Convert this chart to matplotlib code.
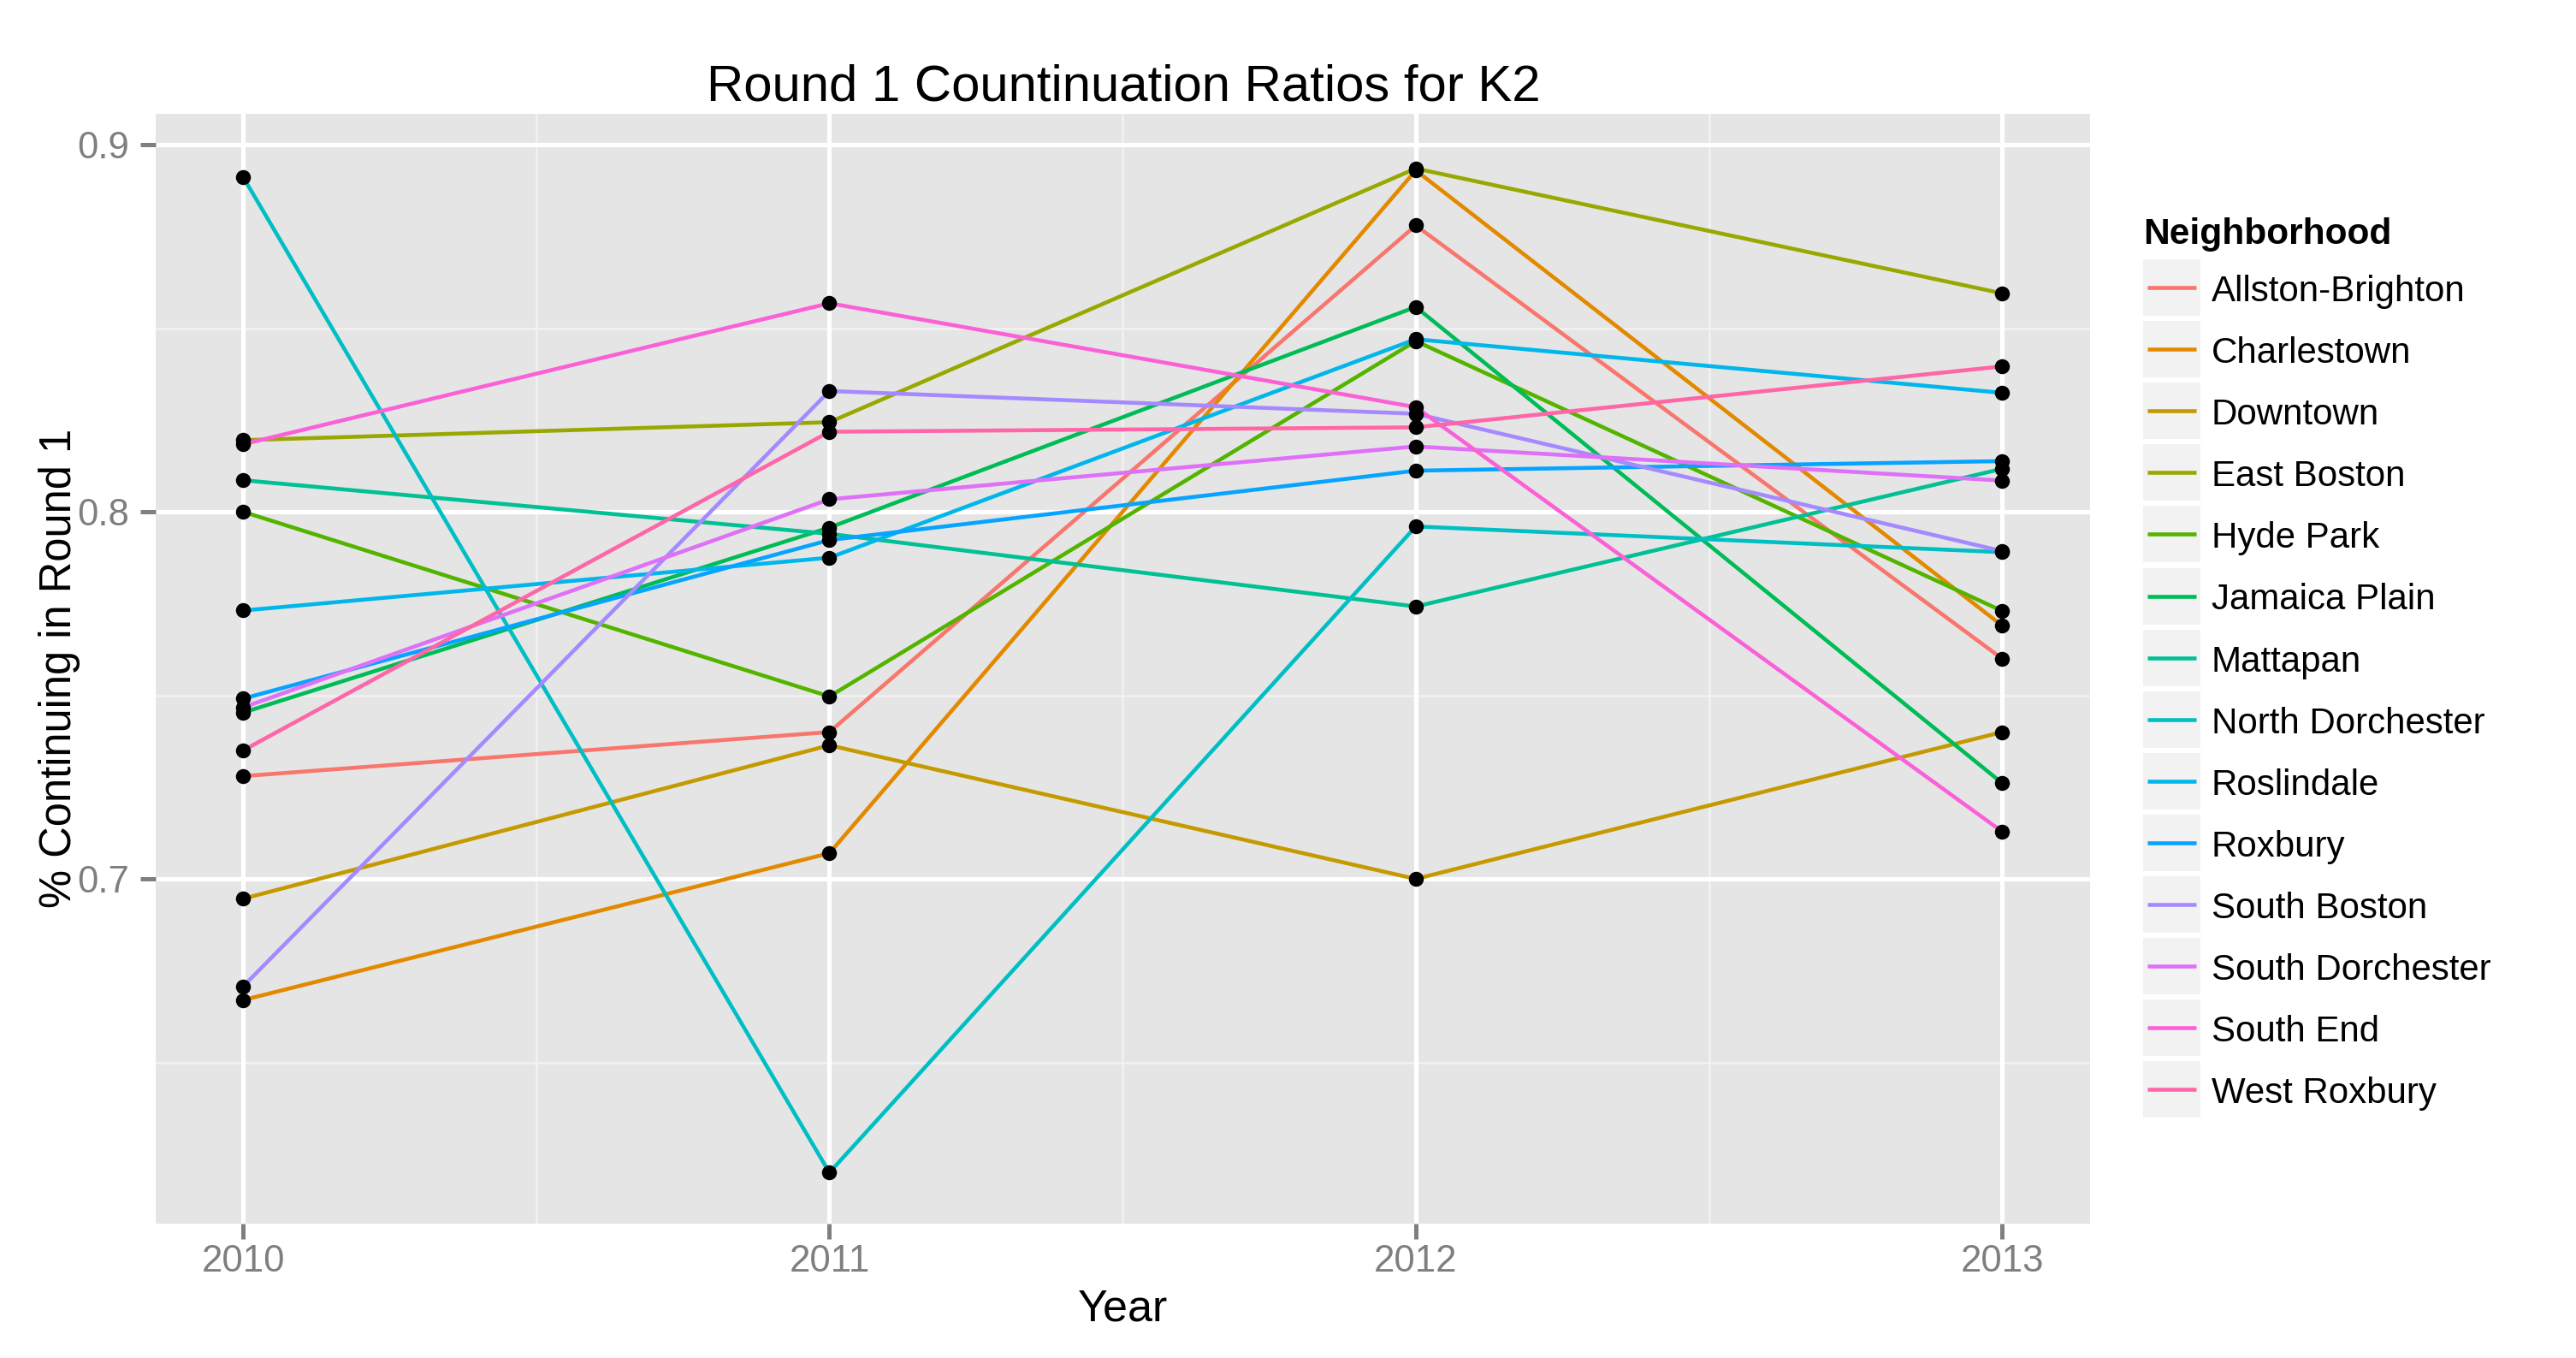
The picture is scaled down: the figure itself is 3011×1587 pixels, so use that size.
import matplotlib
matplotlib.use('Agg')
import matplotlib.pyplot as plt
from matplotlib.patches import Rectangle

plt.rcParams['font.family'] = ['Liberation Sans', 'DejaVu Sans']

years = [2010, 2011, 2012, 2013]

neighborhoods = ['Allston-Brighton', 'Charlestown', 'Downtown', 'East Boston', 'Hyde Park',
                 'Jamaica Plain', 'Mattapan', 'North Dorchester', 'Roslindale', 'Roxbury',
                 'South Boston', 'South Dorchester', 'South End', 'West Roxbury']

colors = ['#F8766D', '#E38900', '#C49A00', '#99A800', '#53B400', '#00BC56', '#00C094',
          '#00BFC4', '#00B6EB', '#06A4FF', '#A58AFF', '#DF70F8', '#FB61D7', '#FF66A8']

# ratios per neighborhood, 2010..2013
allston_brighton = [0.728, 0.740, 0.878, 0.760]
charlestown = [0.667, 0.707, 0.893, 0.769]
downtown = [0.6946, 0.7364, 0.700, 0.740]
east_boston = [0.8195, 0.8244, 0.8935, 0.8595]
hyde_park = [0.800, 0.7497, 0.8465, 0.773]
jamaica_plain = [0.7453, 0.7957, 0.8558, 0.7261]
mattapan = [0.8086, 0.794, 0.7742, 0.8117]
north_dorchester = [0.8912, 0.620, 0.796, 0.789]
roslindale = [0.7731, 0.7875, 0.847, 0.8324]
roxbury = [0.7491, 0.7923, 0.8112, 0.8138]
south_boston = [0.6707, 0.8329, 0.8267, 0.7893]
south_dorchester = [0.7467, 0.8034, 0.8178, 0.8085]
south_end = [0.8184, 0.8568, 0.8285, 0.7129]
west_roxbury = [0.735, 0.8218, 0.823, 0.8396]

series = [allston_brighton, charlestown, downtown, east_boston, hyde_park, jamaica_plain,
          mattapan, north_dorchester, roslindale, roxbury, south_boston, south_dorchester,
          south_end, west_roxbury]

W, H = 3012, 1587
fig = plt.figure(figsize=(W / 300, H / 300), dpi=300)
fig.patch.set_facecolor('white')

def fx(px):
    return px / W

def fy(py):
    return (H - py) / H

ax = fig.add_axes([fx(182), fy(1430), fx(2443) - fx(182), fy(133) - fy(1430)])
ax.set_facecolor('#E5E5E5')
for s in ax.spines.values():
    s.set_visible(False)

ax.set_xlim(2010 - 0.149, 2013 + 0.15)
ax.set_ylim(0.6061, 0.9084)

# grid
for x in [2010.5, 2011.5, 2012.5]:
    ax.axvline(x, color='#F2F2F2', lw=0.6, zorder=0)
for y in [0.65, 0.75, 0.85]:
    ax.axhline(y, color='#F2F2F2', lw=0.6, zorder=0)
for x in years:
    ax.axvline(x, color='white', lw=1.25, zorder=0)
for y in [0.7, 0.8, 0.9]:
    ax.axhline(y, color='white', lw=1.25, zorder=0)

for vals, c in zip(series, colors):
    ax.plot(years, vals, color=c, lw=1.1, zorder=2, solid_capstyle='butt')
for vals in series:
    ax.plot(years, vals, 'o', color='black', ms=4.2, mew=0, zorder=3)

ax.set_xticks(years)
ax.set_xticklabels([str(y) for y in years])
ax.set_yticks([0.7, 0.8, 0.9])
ax.set_yticklabels(['0.7', '0.8', '0.9'])
ax.tick_params(axis='both', colors='#7F7F7F', labelcolor='#7F7F7F', labelsize=10.5,
               length=4.3, width=1.2)
ax.tick_params(axis='x', pad=1.5)
ax.tick_params(axis='y', pad=3)

fig.text(fx(1313), fy(118), 'Round 1 Countinuation Ratios for K2', ha='center', va='baseline',
         fontsize=14.4, color='black')
fig.text(fx(1312), fy(1543), 'Year', ha='center', va='baseline', fontsize=12.5, color='black')
fig.text(fx(70), fy(781), '% Continuing in Round 1', ha='center', va='center', rotation=90,
         fontsize=12.2, color='black')

# legend
lax = fig.add_axes([0, 0, 1, 1], facecolor='none')
lax.set_xlim(0, W)
lax.set_ylim(H, 0)
lax.axis('off')
lax.text(2505, 285, 'Neighborhood', ha='left', va='baseline', fontsize=10.2, fontweight='bold',
         color='black')
pitch = 72.1
for i, (name, c) in enumerate(zip(neighborhoods, colors)):
    top = 303 + i * pitch
    lax.add_patch(Rectangle((2505, top), 67, 66, facecolor='#F2F2F2', edgecolor='none'))
    cy = top + 33
    lax.plot([2510, 2567], [cy, cy], color=c, lw=1.1, solid_capstyle='butt')
    lax.text(2585, cy + 16, name, ha='left', va='baseline', fontsize=10.1, color='black')

fig.savefig('out.png', dpi=300)
